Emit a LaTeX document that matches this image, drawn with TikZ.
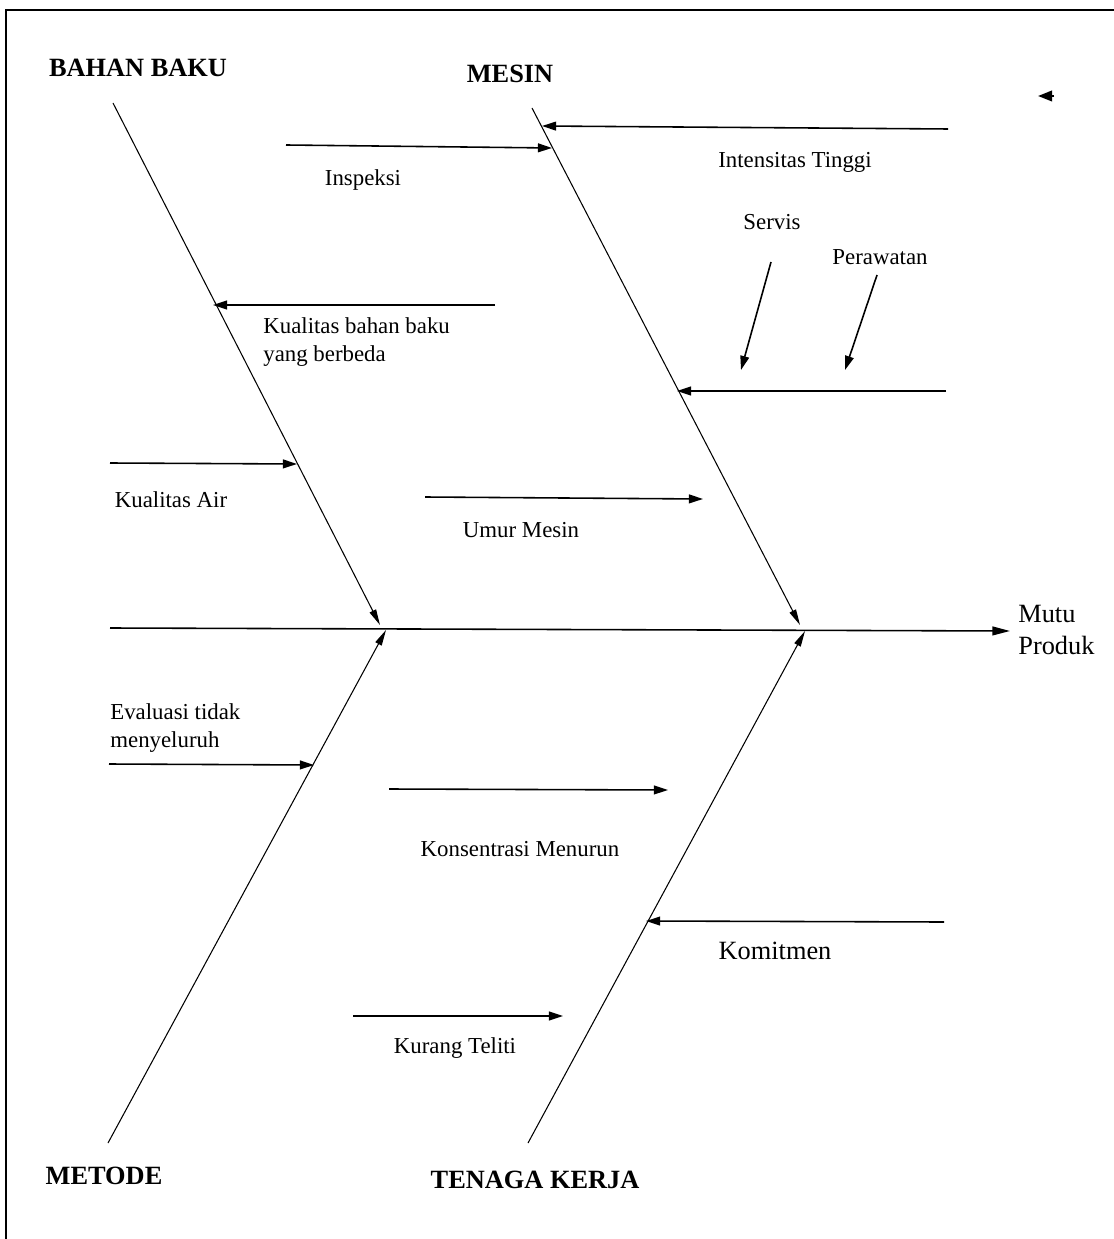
\documentclass[tikz,border=0pt]{standalone}
\usepackage{fontspec}
\setmainfont{Liberation Serif}
\usetikzlibrary{arrows.meta}
\begin{document}
\begin{tikzpicture}[x=0.02cm,y=-0.02cm,
  bone/.style={line width=0.6pt,-{Triangle[length=9pt,width=4pt]}},
  sub/.style={line width=0.9pt,-{Triangle[length=8pt,width=5pt]}},
  cat/.style={font=\fontsize{15}{17}\selectfont\bfseries,inner sep=0pt},
  lbl/.style={font=\fontsize{13}{15}\selectfont,inner sep=0pt},
  lbll/.style={font=\fontsize{13}{16}\selectfont,inner sep=0pt,align=left,anchor=west}]
\useasboundingbox (0,0) rectangle (1114,1239);
% frame
\draw[line width=0.8pt] (6,1239) -- (6,10) -- (1114,10);
% spine
\coordinate (sp0) at (110,628);
\coordinate (head) at (1010,631);
\draw[line width=0.9pt,-{Triangle[length=10pt,width=5pt]}] (sp0) -- (head);
\node[font=\fontsize{15}{18}\selectfont,align=left,anchor=west,inner sep=0pt] (mutu) at (1018,630) {Mutu\\Produk};
% bones
\coordinate (bb0) at (113,103); \coordinate (bb1) at (380,625);
\coordinate (ms0) at (532,108); \coordinate (ms1) at (800,625);
\coordinate (mt0) at (108,1143); \coordinate (mt1) at (386,630);
\coordinate (tk0) at (528,1143); \coordinate (tk1) at (805,631);
\draw[bone] (bb0) -- (bb1);
\draw[bone] (ms0) -- (ms1);
\draw[bone] (mt0) -- (mt1);
\draw[bone] (tk0) -- (tk1);
\node[cat] (bahan) at (138,68) {BAHAN BAKU};
\node[cat] (mesin) at (510,74) {MESIN};
\node[cat] (metode) at (104,1176) {METODE};
\node[cat] (tenaga) at (535,1180) {TENAGA KERJA};
% sub causes
\coordinate (it0) at (948,129); \coordinate (it1) at (542,126);
\draw[sub] (it0) -- (it1);
\node[lbl] (intens) at (795,162) {Intensitas Tinggi};
\coordinate (in0) at (286,145); \coordinate (in1) at (552,148);
\draw[sub] (in0) -- (in1);
\node[lbl] (insp) at (363,180) {Inspeksi};
\coordinate (kb0) at (495,305); \coordinate (kb1) at (213,305);
\draw[sub] (kb0) -- (kb1);
\node[lbll] (kbb) at (263,342) {Kualitas bahan baku\\yang berbeda};
\node[lbl] (servis) at (772,222) {Servis};
\coordinate (sv0) at (771,262); \coordinate (sv1) at (741,370);
\draw[sub] (sv0) -- (sv1);
\node[lbl] (perawatan) at (880,257) {Perawatan};
\coordinate (pw0) at (877,275); \coordinate (pw1) at (845,370);
\draw[sub] (pw0) -- (pw1);
\coordinate (rw0) at (946,391); \coordinate (rw1) at (677,391);
\draw[sub] (rw0) -- (rw1);
\coordinate (ka0) at (110,463); \coordinate (ka1) at (297,464);
\draw[sub] (ka0) -- (ka1);
\node[lbl] (kair) at (171,500) {Kualitas Air};
\coordinate (um0) at (425,497); \coordinate (um1) at (703,499);
\draw[sub] (um0) -- (um1);
\node[lbl] (umur) at (521,530) {Umur Mesin};
\node[lbll] (evl) at (110,728) {Evaluasi tidak\\menyeluruh};
\coordinate (ev0) at (109,764); \coordinate (ev1) at (314,765);
\draw[sub] (ev0) -- (ev1);
\coordinate (ko0) at (389,789); \coordinate (ko1) at (668,790);
\draw[sub] (ko0) -- (ko1);
\node[lbl] (kons) at (520,849) {Konsentrasi Menurun};
\coordinate (km0) at (944,922); \coordinate (km1) at (646,921);
\draw[sub] (km0) -- (km1);
\node[font=\fontsize{15}{17}\selectfont,inner sep=0pt] (komit) at (775,951) {Komitmen};
\coordinate (kt0) at (353,1016); \coordinate (kt1) at (563,1016);
\draw[sub] (kt0) -- (kt1);
\node[lbl] (kurang) at (455,1048) {Kurang Teliti};
% stray arrowhead
\coordinate (st0) at (1054,96); \coordinate (st1) at (1038,96);
\draw[line width=1.2pt,-{Triangle[length=8pt,width=6pt]}] (st0) -- (st1);
\end{tikzpicture}
\end{document}
